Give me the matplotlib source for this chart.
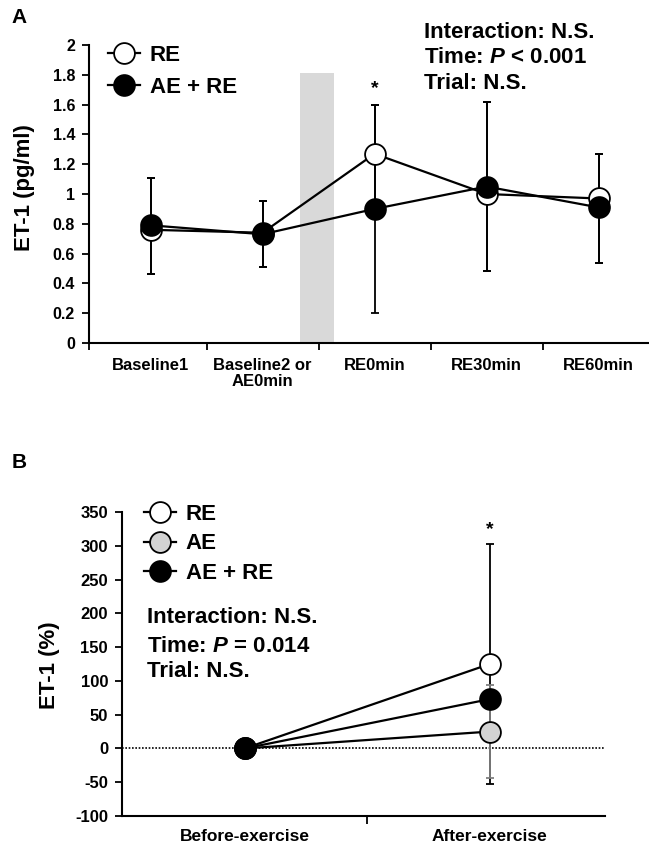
import matplotlib
matplotlib.use('Agg')
import matplotlib.pyplot as plt
import numpy as np

plt.rcParams['font.family'] = 'Liberation Sans'
plt.rcParams['font.weight'] = 'bold'
plt.rcParams['axes.unicode_minus'] = False
plt.rcParams['mathtext.fontset'] = 'custom'
plt.rcParams['mathtext.it'] = 'Liberation Sans:italic:bold'
plt.rcParams['mathtext.rm'] = 'Liberation Sans:bold'

# panel A: ET-1 concentration over time (mean, upper SD, lower SD)
time_labels = ['Baseline1', 'Baseline2 or\nAE0min', 'RE0min', 'RE30min', 'RE60min']
re_mean = [0.76, 0.74, 1.27, 1.00, 0.97]
re_sd_up = [0.35, 0.21, 0.33, 0.62, 0.30]
re_sd_low = [0.30, 0.23, 0.33, 0.52, 0.43]
aere_mean = [0.79, 0.73, 0.90, 1.05, 0.91]
aere_sd_up = [0.32, 0.22, 0.70, 0.57, 0.36]
aere_sd_low = [0.33, 0.22, 0.70, 0.57, 0.37]
shade_span = (1.33, 1.64, 1.81)   # x start, x end, height of grey exercise band

# panel B: percent change
phase_labels = ['Before-exercise', 'After-exercise']
re_pct = [0, 125]
re_pct_sd = [0, 178]
ae_pct = [0, 25]
ae_pct_sd = [0, 69]
aere_pct = [0, 73]
aere_pct_sd = [0, 12]

MS = 15
fig = plt.figure(figsize=(6.49, 8.43), dpi=100)

# ---------------- panel A ----------------
axA = fig.add_axes([0.137, 0.5931, 0.863, 0.3535])
x = np.arange(len(time_labels))
axA.fill_betweenx([0, shade_span[2]], shade_span[0], shade_span[1],
                  color='#d9d9d9', lw=0, zorder=0)
axA.errorbar(x, re_mean, yerr=[re_sd_low, re_sd_up], fmt='none', ecolor='black',
             elinewidth=1.3, capsize=3, capthick=1.3, zorder=2)
axA.errorbar(x, aere_mean, yerr=[aere_sd_low, aere_sd_up], fmt='none', ecolor='black',
             elinewidth=1.3, capsize=3, capthick=1.3, zorder=2)
axA.plot(x, re_mean, '-o', color='black', mfc='white', mec='black',
         ms=MS, mew=1.3, lw=1.6, label='RE', zorder=3)
axA.plot(x, aere_mean, '-o', color='black', mfc='black', mec='black',
         ms=MS, mew=1.3, lw=1.6, label='AE + RE', zorder=4)
axA.text(2, re_mean[2] + re_sd_up[2] + 0.05, '*', ha='center', va='bottom', fontsize=14)

axA.set_xlim(-0.55, 4.45)
axA.set_ylim(0, 2)
axA.set_yticks(np.arange(0, 2.01, 0.2))
axA.set_yticklabels(['%g' % round(v, 1) for v in np.arange(0, 2.01, 0.2)])
axA.set_xticks(x)
axA.set_xticklabels(time_labels, linespacing=1.1)
axA.set_xticks([-0.55, 0.5, 1.5, 2.5, 3.5], minor=True)
axA.tick_params(axis='x', which='major', length=0, pad=11, labelsize=12)
axA.tick_params(axis='x', which='minor', length=5, width=1.3, direction='out')
axA.tick_params(axis='y', length=5, width=1.3, labelsize=11.5, pad=5)
for s in ['top', 'right']:
    axA.spines[s].set_visible(False)
for s in ['left', 'bottom']:
    axA.spines[s].set_linewidth(1.5)
axA.legend(loc='upper left', bbox_to_anchor=(0.019, 1.03), frameon=False,
           fontsize=16, handlelength=1.4, handletextpad=0.45, labelspacing=0.5,
           borderaxespad=0)

fig.text(0.653, 0.962, 'Interaction: N.S.', fontsize=16, va='center')
fig.text(0.653, 0.932, 'Time: $P$ < 0.001', fontsize=16, va='center')
fig.text(0.653, 0.901, 'Trial: N.S.', fontsize=16, va='center')
fig.text(0.038, 0.777, 'ET-1 (pg/ml)', fontsize=16, rotation=90, ha='center', va='center')
fig.text(0.018, 0.979, 'A', fontsize=15, va='center')

# ---------------- panel B ----------------
axB = fig.add_axes([0.188, 0.032, 0.744, 0.3606])
xb = np.arange(len(phase_labels))
axB.axhline(0, color='black', ls=(0, (1, 1)), lw=1.2, zorder=1)
axB.errorbar(xb, re_pct, yerr=re_pct_sd, fmt='none', ecolor='black',
             elinewidth=1.3, capsize=3, capthick=1.3, zorder=2)
axB.errorbar(xb, aere_pct, yerr=aere_pct_sd, fmt='none', ecolor='black',
             elinewidth=1.3, capsize=3, capthick=1.3, zorder=2)
axB.errorbar(xb, ae_pct, yerr=ae_pct_sd, fmt='none', ecolor='#7f7f7f',
             elinewidth=1.3, capsize=3, capthick=1.3, zorder=2.5)
axB.plot(xb, re_pct, '-o', color='black', mfc='white', mec='black',
         ms=MS, mew=1.3, lw=1.6, label='RE', zorder=3)
axB.plot(xb, ae_pct, '-o', color='black', mfc='#d3d3d3', mec='black',
         ms=MS, mew=1.3, lw=1.6, label='AE', zorder=3.5)
axB.plot(xb, aere_pct, '-o', color='black', mfc='black', mec='black',
         ms=MS, mew=1.3, lw=1.6, label='AE + RE', zorder=4)
axB.text(1, re_pct[1] + re_pct_sd[1] + 8, '*', ha='center', va='bottom', fontsize=14)

axB.set_xlim(-0.5, 1.47)
axB.set_ylim(-100, 350)
axB.set_yticks(np.arange(-100, 351, 50))
axB.set_xticks(xb)
axB.set_xticklabels(phase_labels)
axB.set_xticks([0.5], minor=True)
axB.tick_params(axis='x', which='major', length=0, pad=9, labelsize=12.5)
axB.tick_params(axis='x', which='minor', length=6, width=1.3, direction='out')
axB.tick_params(axis='y', length=5, width=1.3, labelsize=12, pad=5)
for s in ['top', 'right']:
    axB.spines[s].set_visible(False)
for s in ['left', 'bottom']:
    axB.spines[s].set_linewidth(1.5)
axB.legend(loc='upper left', bbox_to_anchor=(0.028, 1.056), frameon=False,
           fontsize=16, handlelength=1.4, handletextpad=0.45, labelspacing=0.38,
           borderaxespad=0)

fig.text(0.226, 0.267, 'Interaction: N.S.', fontsize=16, va='center')
fig.text(0.226, 0.233, 'Time: $P$ = 0.014', fontsize=16, va='center')
fig.text(0.226, 0.203, 'Trial: N.S.', fontsize=16, va='center')
fig.text(0.076, 0.211, 'ET-1 (%)', fontsize=16, rotation=90, ha='center', va='center')
fig.text(0.018, 0.451, 'B', fontsize=15, va='center')

fig.savefig('out.png', dpi=100)
